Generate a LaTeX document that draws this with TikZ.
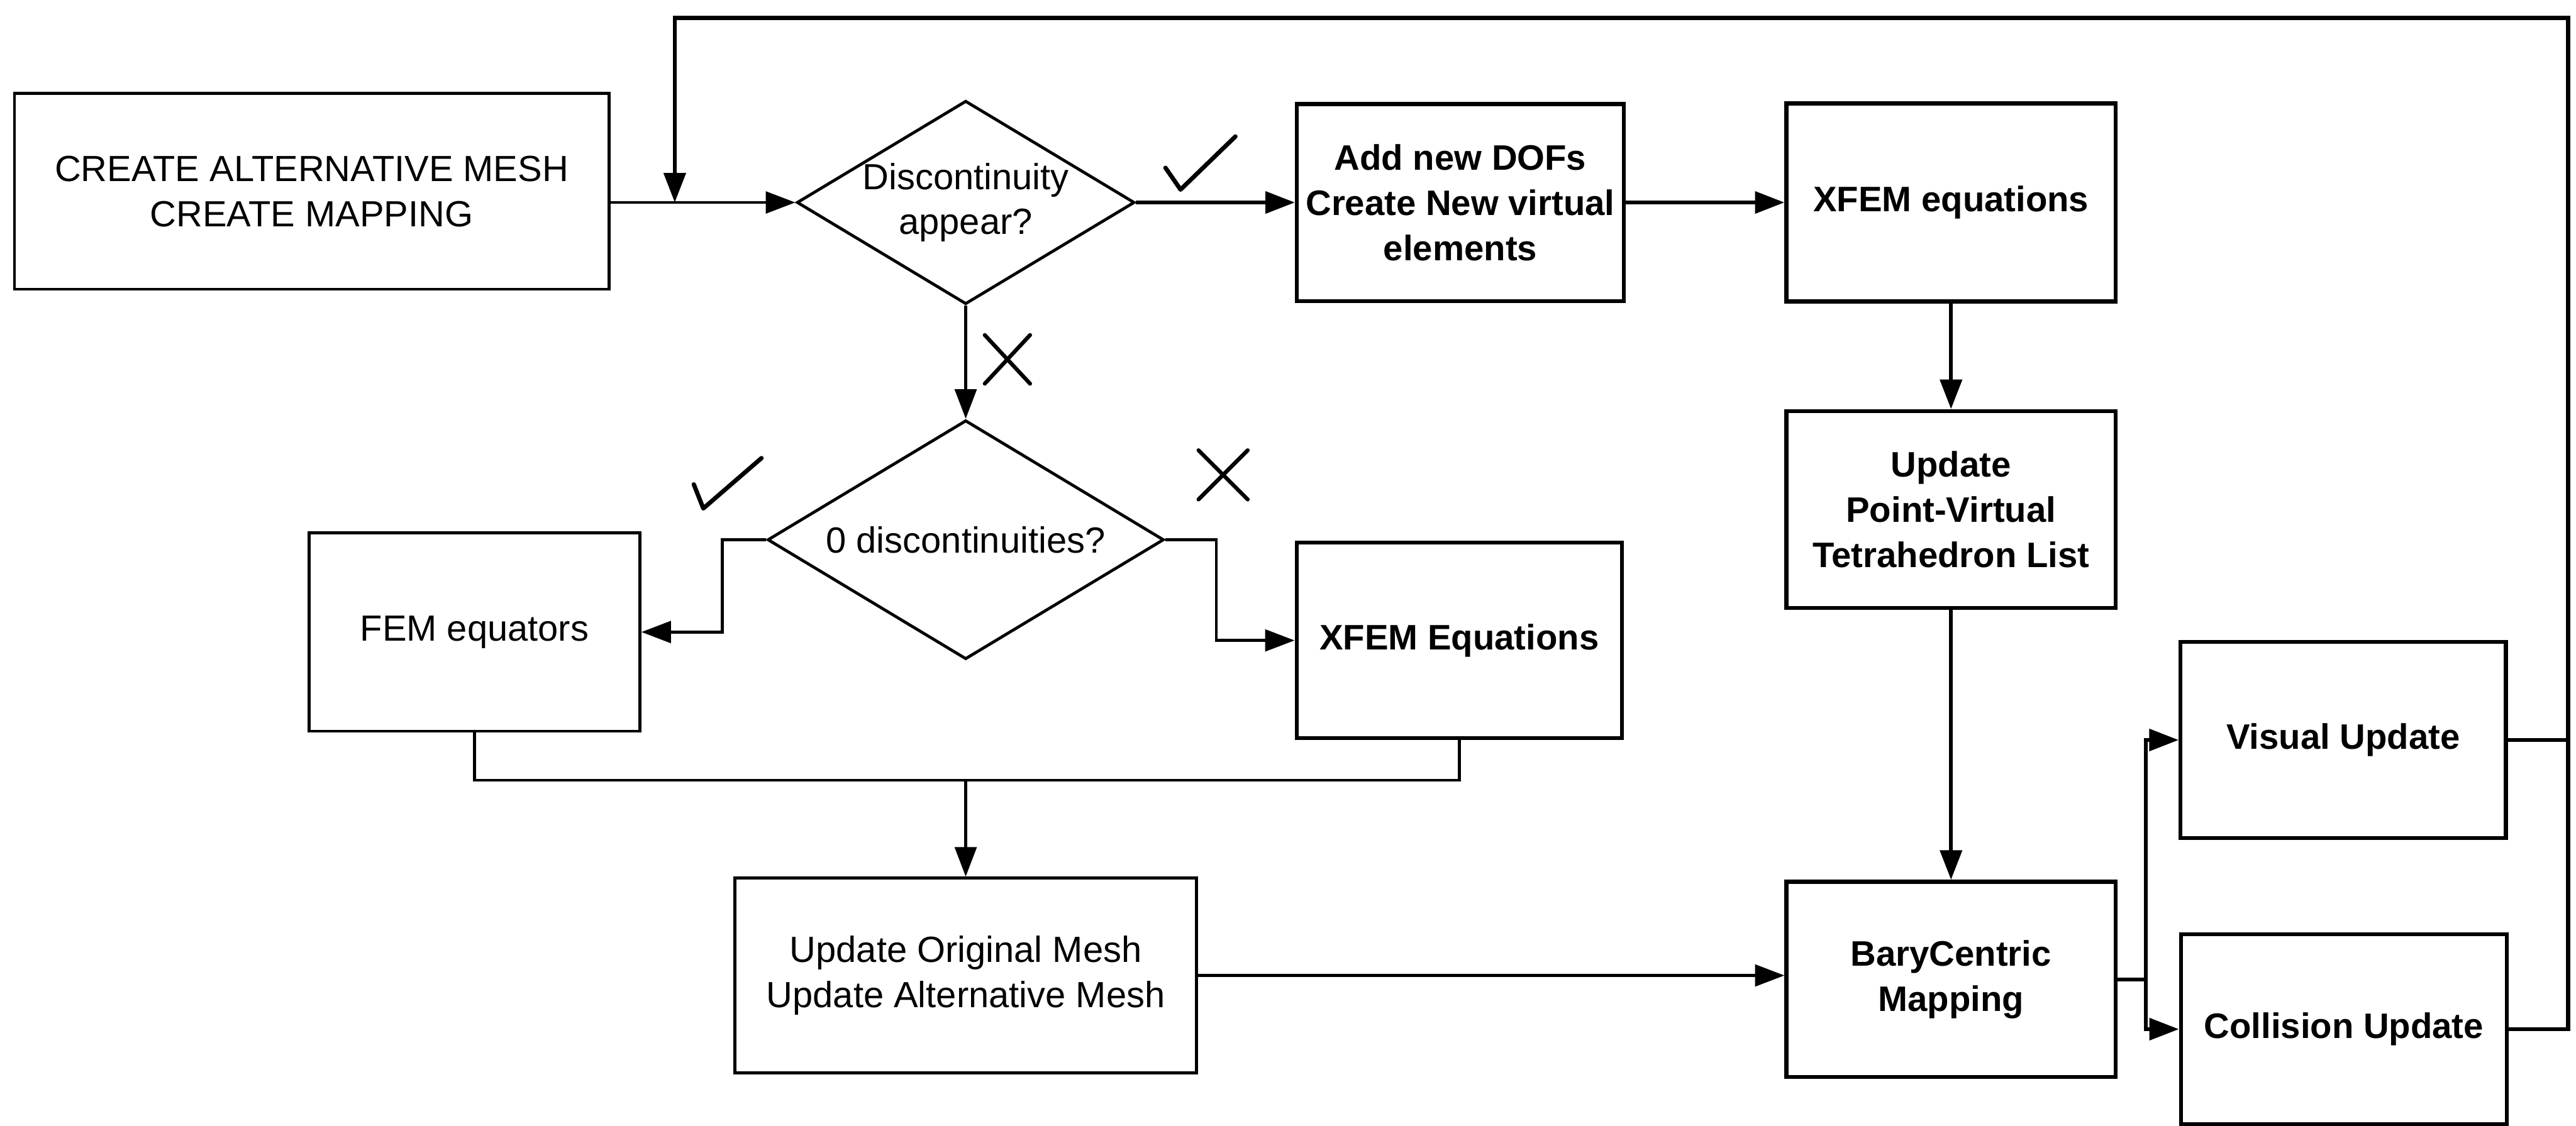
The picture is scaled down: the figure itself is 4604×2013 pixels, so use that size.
\documentclass[tikz,border=0pt]{standalone}
\usepackage{fontspec}
\setmainfont{Liberation Sans}
\usetikzlibrary{shapes.geometric,arrows.meta}

\tikzset{
  txt/.style={align=center,font=\fontsize{18.5}{23}\selectfont},
  txtb/.style={align=center,font=\fontsize{18}{23}\selectfont\bfseries},
  boxl/.style={draw,line width=1.5pt,txt,inner sep=0pt},
  boxr/.style={draw,line width=2pt,txtb,inner sep=0pt},
  decide/.style={draw,diamond,line width=1.5pt,txt,inner sep=0pt,aspect=1.66},
  linel/.style={line width=1.5pt},
  liner/.style={line width=2pt},
  tip/.style={-{Triangle[length=15pt,width=11pt]}},
  tickmark/.style={line width=2.2pt,line cap=round,line join=round}
}

\begin{document}
\begin{tikzpicture}[x=0.01cm,y=-0.01cm]
\useasboundingbox (0,0) rectangle (4604,2013);

% process boxes and decisions
\node[boxl,minimum width=10.62cm,minimum height=3.5cm] (create) at (557,342)
  {CREATE ALTERNATIVE MESH\\CREATE MAPPING};
\node[decide,minimum width=5.77cm,minimum height=3.47cm] (d1) at (1726,362)
  {Discontinuity\\appear?};
\node[boxr,minimum width=5.84cm,minimum height=3.52cm] (add) at (2610,362)
  {Add new DOFs\\Create New virtual\\elements};
\node[boxr,minimum width=5.88cm,minimum height=3.54cm] (xeq) at (3487,362)
  {XFEM equations};
\node[boxr,minimum width=5.88cm,minimum height=3.52cm] (upv) at (3487,911)
  {Update\\Point-Virtual\\Tetrahedron List};
\node[boxr,minimum width=5.88cm,minimum height=3.49cm] (bary) at (3487,1751)
  {BaryCentric\\Mapping};
\node[boxr,minimum width=5.81cm,minimum height=3.51cm] (vis) at (4188,1323)
  {Visual Update};
\node[boxr,minimum width=5.82cm,minimum height=3.40cm] (col) at (4189,1840)
  {Collision Update};
\node[decide,minimum width=7.08cm,minimum height=4.27cm] (d2) at (1726,965)
  {0 discontinuities?};
\node[boxl,minimum width=5.91cm,minimum height=3.54cm] (fem) at (848,1130)
  {FEM equators};
\node[boxr,minimum width=5.81cm,minimum height=3.49cm] (xeq2) at (2608,1145)
  {XFEM Equations};
\node[boxl,minimum width=8.24cm,minimum height=3.48cm] (upo) at (1726,1744)
  {Update Original Mesh\\Update Alternative Mesh};

% junction points
\coordinate (merge) at (1726,1395);
\coordinate (split) at (3835,1751);
\coordinate (rtop) at (4590,32);
\coordinate (ltop) at (1206,32);

% main flow
\draw[linel,tip] (d1.west -| create.east) -- (d1.west);
\draw[liner,tip] (d1.east) -- (add.west);
\draw[liner,tip] (add.east) -- (xeq.west);
\draw[liner,tip] (xeq.south) -- (upv.north);
\draw[liner,tip] (upv.south) -- (bary.north);
\draw[linel,tip] (d1.south) -- (d2.north);
\draw[linel,tip] (d2.west) -- ++(-78,0) |- (fem.east);
\draw[linel,tip] (d2.east) -- ++(91,0) |- (xeq2.west);
\draw[linel] (fem.south) |- (merge) -| (xeq2.south);
\draw[linel,tip] (merge) -- (upo.north);
\draw[linel,tip] (upo.east) -- (upo.east -| bary.west);
\draw[liner] (bary.east) -- (split);
\draw[liner,tip] (split) |- (vis.west);
\draw[liner,tip] (split) |- (col.west);

% feedback loop
\draw[liner] (vis.east) -- (vis.east -| rtop);
\draw[liner,tip] (col.east) -| (rtop) -- (ltop) -- (ltop |- d1.west);

% yes / no marks
\draw[tickmark] (2083,300) -- (2110,339) -- (2208,244);
\draw[tickmark] (1240,866) -- (1257,909) -- (1361,819);
\draw[tickmark,line width=2pt] (1760,599) -- (1841,686) (1841,599) -- (1760,686);
\draw[tickmark,line width=2pt] (2142,805) -- (2230,893) (2230,805) -- (2142,893);
\end{tikzpicture}
\end{document}
